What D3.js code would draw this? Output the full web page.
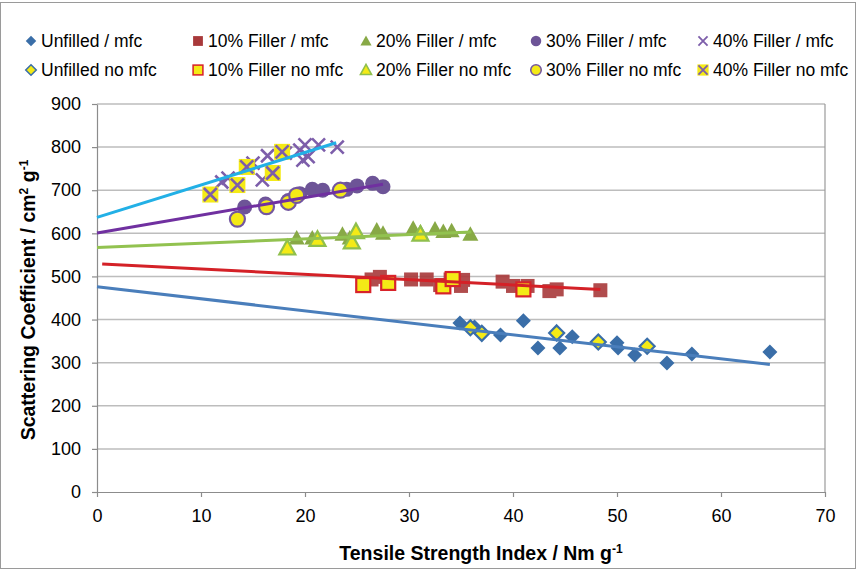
<!DOCTYPE html>
<html>
<head>
<meta charset="utf-8">
<script src="https://cdn.jsdelivr.net/npm/d3@7"></script>
<style>
  body { margin: 0; background: #fff; }
  svg text { font-family: "Liberation Sans", Arial, sans-serif; fill: #000; }
</style>
</head>
<body>
<div id="chart"></div>
<script>
// series values [tensile strength index, scattering coefficient]
const unfilledMfc = [[34.9,392],[36.3,383],[38.8,364],[41.0,397],[42.4,334],[44.5,334],[45.7,360],[50.0,346],[50.1,334],[51.7,318],[54.8,299],[57.2,320],[64.7,325]];
const unfilledNoMfc = [[35.9,381],[37.0,368],[44.2,369],[48.2,348],[52.9,338]];
const filler10Mfc = [[26.4,493],[27.2,499],[30.2,493],[31.7,493],[33.0,480],[34.0,493],[35.0,478],[35.2,492],[39.0,488],[40.0,478],[41.4,478],[43.5,466],[44.2,470],[48.4,468]];
const filler10NoMfc = [[25.6,480],[28.0,485],[33.3,477],[34.2,494],[41.0,470]];
const filler20Mfc = [[19.2,589],[20.7,589],[23.6,598],[24.3,589],[26.9,608],[27.5,600],[30.4,612],[31.1,603],[32.5,610],[33.3,604],[34.1,606],[35.9,598]];
const filler20NoMfc = [[18.3,566],[21.2,586],[24.5,580],[24.9,604],[31.1,598]];
const filler30Mfc = [[14.2,661],[16.2,668],[18.4,676],[19.5,692],[20.7,702],[21.7,700],[24.0,702],[25.0,710],[26.5,716],[27.5,708]];
const filler30NoMfc = [[13.5,633],[16.3,662],[18.4,672],[19.2,688],[23.4,700]];
const filler40Mfc = [[12.0,719],[12.6,728],[14.5,752],[15.0,763],[15.9,724],[16.4,780],[18.1,786],[19.5,793],[19.8,770],[20.0,805],[20.3,778],[21.3,805],[23.1,800]];
const filler40NoMfc = [[10.9,690],[13.5,712],[14.4,754],[16.9,740],[17.8,789]];

// trendline end points
const trendUnfilled = [[0,476],[64.7,296]];
const trend10 = [[0.5,529],[48.4,470]];
const trend20 = [[0,567],[36,603]];
const trend30 = [[0,601],[27.5,714]];
const trend40 = [[0,637],[23,810]];

const xTicks = [0,10,20,30,40,50,60,70];
const yTicks = [0,100,200,300,400,500,600,700,800,900];
const legendLabels = [
  ['Unfilled / mfc','10% Filler / mfc','20% Filler / mfc','30% Filler / mfc','40% Filler / mfc'],
  ['Unfilled no mfc','10% Filler no mfc','20% Filler no mfc','30% Filler no mfc','40% Filler no mfc']
];

const w = 857, h = 570;
const plotLeft = 97, plotRight = 825, plotTop = 104, plotBottom = 492;

const svg = d3.select('#chart').append('svg')
  .attr('width', w).attr('height', h);

svg.append('rect')
  .attr('x', 0.5).attr('y', 2.5).attr('width', w - 2).attr('height', h - 4)
  .attr('fill', '#fff').attr('stroke', '#9a9a9a');

const x = d3.scaleLinear().domain([0, 70]).range([plotLeft, plotRight]);
const y = d3.scaleLinear().domain([0, 900]).range([plotBottom, plotTop]);

// gridlines
svg.append('g').selectAll('line')
  .data(yTicks.filter(d => d > 0))
  .enter().append('line')
  .attr('x1', plotLeft).attr('x2', plotRight)
  .attr('y1', d => y(d)).attr('y2', d => y(d))
  .attr('stroke', '#bdbdbd').attr('stroke-width', 1.5);

svg.append('line')
  .attr('x1', plotRight).attr('x2', plotRight).attr('y1', plotTop).attr('y2', plotBottom)
  .attr('stroke', '#9a9a9a').attr('stroke-width', 1.2);

const xAxis = d3.axisBottom(x).tickValues(xTicks).tickSize(5).tickSizeOuter(0).tickPadding(12);
const yAxis = d3.axisLeft(y).tickValues(yTicks).tickSize(5).tickSizeOuter(0).tickPadding(11);

const gx = svg.append('g').attr('transform', 'translate(0,' + plotBottom + ')').call(xAxis);
const gy = svg.append('g').attr('transform', 'translate(' + plotLeft + ',0)').call(yAxis);
[gx, gy].forEach(g => {
  g.selectAll('path, line').attr('stroke', '#8c8c8c').attr('stroke-width', 1.2);
  g.selectAll('text').attr('font-size', 18).style('font-family', '"Liberation Sans", Arial, sans-serif');
});

// marker shapes
const yellow = '#f4ea16';
const marker = (g, type, fill, stroke) => {
  if (type === 'diamond') {
    g.append('path').attr('d', 'M0,-7.5L7.5,0L0,7.5L-7.5,0Z')
      .attr('fill', fill).attr('stroke', stroke).attr('stroke-width', stroke ? 2.2 : 0);
  } else if (type === 'square') {
    g.append('rect').attr('x', -7).attr('y', -7).attr('width', 14).attr('height', 14)
      .attr('fill', fill).attr('stroke', stroke).attr('stroke-width', stroke ? 2.2 : 0);
  } else if (type === 'triangle') {
    g.append('path').attr('d', 'M0,-8L8,6.5L-8,6.5Z')
      .attr('fill', fill).attr('stroke', stroke).attr('stroke-width', stroke ? 2.2 : 0);
  } else if (type === 'circle') {
    g.append('circle').attr('r', 7.5)
      .attr('fill', fill).attr('stroke', stroke).attr('stroke-width', stroke ? 2.2 : 0);
  } else if (type === 'cross') {
    if (fill) {
      g.append('rect').attr('x', -8).attr('y', -8).attr('width', 16).attr('height', 16).attr('fill', fill);
    }
    g.append('path').attr('d', 'M-6.5,-6.5L6.5,6.5M-6.5,6.5L6.5,-6.5')
      .attr('stroke', '#7d5eaa').attr('stroke-width', 2.6).attr('fill', 'none');
  }
};

const series = [
  { data: unfilledMfc, type: 'diamond', fill: '#3a6ea8', stroke: null },
  { data: filler10Mfc, type: 'square', fill: '#a8393a', stroke: null, opacity: 0.9 },
  { data: filler20Mfc, type: 'triangle', fill: '#88a946', stroke: null },
  { data: filler30Mfc, type: 'circle', fill: '#6d5497', stroke: null },
  { data: filler40Mfc, type: 'cross', fill: null, stroke: null },
  { data: unfilledNoMfc, type: 'diamond', fill: yellow, stroke: '#3a6ea8' },
  { data: filler10NoMfc, type: 'square', fill: yellow, stroke: '#d8232a' },
  { data: filler20NoMfc, type: 'triangle', fill: yellow, stroke: '#8fbf4d' },
  { data: filler30NoMfc, type: 'circle', fill: yellow, stroke: '#7356a0' },
  { data: filler40NoMfc, type: 'cross', fill: yellow, stroke: null }
];

series.forEach(s => {
  svg.append('g').attr('opacity', s.opacity || 1)
    .selectAll('g').data(s.data).enter().append('g')
    .attr('transform', d => 'translate(' + x(d[0]) + ',' + y(d[1]) + ')')
    .each(function () { marker(d3.select(this), s.type, s.fill, s.stroke); });
});

// trendlines
const trends = [
  { data: trendUnfilled, color: '#4a7ebb' },
  { data: trend10, color: '#d42127' },
  { data: trend20, color: '#92c250' },
  { data: trend30, color: '#7030a0' },
  { data: trend40, color: '#22b0e6' }
];
const line = d3.line().x(d => x(d[0])).y(d => y(d[1]));
trends.forEach(t => {
  svg.append('path').datum(t.data).attr('d', line)
    .attr('fill', 'none').attr('stroke', t.color).attr('stroke-width', 3);
});

// legend
const legX = [31, 198, 366, 536, 703];
const legY = [41, 70];
legendLabels.forEach((row, r) => {
  row.forEach((label, i) => {
    const s = series[r * 5 + i];
    const g = svg.append('g').attr('transform', 'translate(' + legX[i] + ',' + legY[r] + ') scale(0.7)');
    marker(g, s.type, s.fill, s.stroke);
    svg.append('text').attr('x', legX[i] + 10).attr('y', legY[r] + 6)
      .attr('font-size', 17.5).text(label);
  });
});

// axis titles
const xt = svg.append('text').attr('x', 481).attr('y', 560)
  .attr('text-anchor', 'middle').attr('font-size', 19.5).attr('font-weight', 'bold');
xt.append('tspan').text('Tensile Strength Index / Nm g');
xt.append('tspan').attr('dy', -7).attr('font-size', 12).text('-1');

const yt = svg.append('text').attr('transform', 'translate(35,300) rotate(-90)')
  .attr('text-anchor', 'middle').attr('font-size', 19.5).attr('font-weight', 'bold');
yt.append('tspan').text('Scattering Coefficient / cm');
yt.append('tspan').attr('dy', -7).attr('font-size', 12).text('2');
yt.append('tspan').attr('dy', 7).text(' g');
yt.append('tspan').attr('dy', -7).attr('font-size', 12).text('-1');
</script>
</body>
</html>
